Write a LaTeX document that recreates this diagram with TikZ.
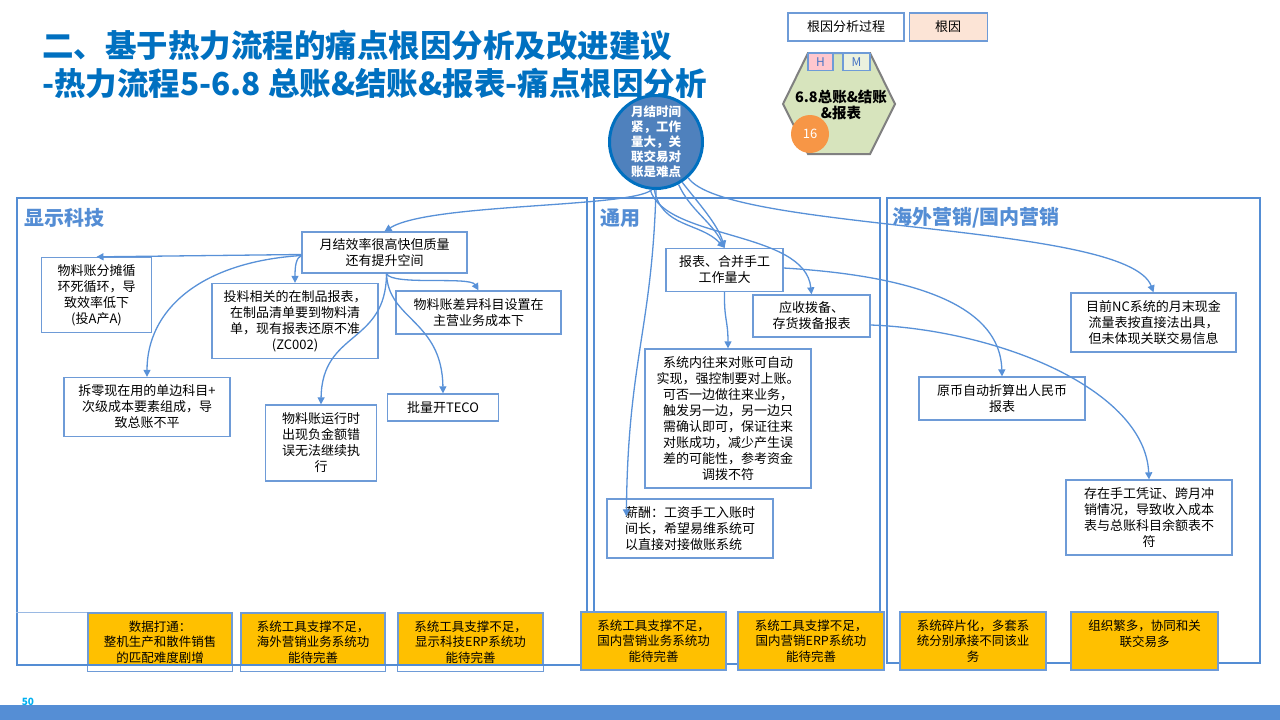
\documentclass[tikz,border=0pt]{standalone}
\usepackage{fontspec}
\setmainfont{Noto Sans CJK SC}
\usetikzlibrary{arrows.meta, calc, positioning}

\definecolor{titleblue}{RGB}{0,112,192}
\definecolor{panelblue}{RGB}{84,141,212}
\definecolor{boxblue}{RGB}{110,155,215}
\definecolor{linkblue}{RGB}{88,145,216}
\definecolor{rootfill}{RGB}{79,129,189}
\definecolor{rootedge}{RGB}{0,112,192}
\definecolor{hexfill}{RGB}{215,228,189}
\definecolor{hexedge}{RGB}{128,128,128}
\definecolor{peach}{RGB}{252,228,214}
\definecolor{hpink}{RGB}{255,199,206}
\definecolor{mpale}{RGB}{235,241,222}
\definecolor{tagtext}{RGB}{68,114,196}
\definecolor{badge}{RGB}{247,150,70}
\definecolor{causefill}{RGB}{255,192,0}
\definecolor{pagecyan}{RGB}{0,176,240}
\definecolor{barblue}{RGB}{85,142,213}

\begin{document}
\begin{tikzpicture}[
        x=1pt, y=-1pt,
        headline/.style={anchor=west, inner sep=0pt, text=titleblue, font=\fontsize{31.5}{36}\selectfont\bfseries},
        panel/.style={rectangle, draw=panelblue, line width=2.6pt, inner sep=0pt},
        paneltitle/.style={anchor=west, inner sep=0pt, text=panelblue, font=\fontsize{20}{24}\selectfont\bfseries},
        issue/.style={rectangle, draw=boxblue, line width=1.3pt, fill=white, align=center, inner sep=1pt, font=\fontsize{13}{16}\selectfont},
        cause/.style={rectangle, draw=boxblue, line width=1.2pt, fill=causefill, align=center, inner sep=1pt, minimum height=58pt, font=\fontsize{12.5}{15.5}\selectfont},
        legend/.style={rectangle, draw=boxblue, line width=1.2pt, minimum height=28pt, font=\fontsize{13}{16}\selectfont},
        tag/.style={rectangle, draw=boxblue, line width=1.2pt, minimum height=17pt, inner sep=0pt, text=tagtext, font=\fontsize{12}{14}\selectfont},
        arrow/.style={-{Triangle[length=7pt, width=7pt]}, line width=1.3pt, color=linkblue}
    ]
        \fill[white] (0,0) rectangle (1280,720);
        \useasboundingbox (0,0) rectangle (1280,720);

        \node[headline] (title) at (42,46) {二、基于热力流程的痛点根因分析及改进建议};
        \node[headline] (subtitle) at (42,83) {-热力流程5-6.8 总账\&结账\&报表-痛点根因分析};

        \node[legend, minimum width=116pt, fill=white] (legproc) at (846,27) {根因分析过程};
        \node[legend, minimum width=78pt, fill=peach, right=4pt of legproc] (legroot) {根因};

        \draw[fill=hexfill, draw=hexedge, line width=2pt] (808,53) -- (870,53) -- (895,104) -- (870,154) -- (808,154) -- (783,104) -- cycle;
        \draw[boxblue, line width=1.5pt] (808,53) -- (870,53);
        \node[tag, minimum width=25pt, fill=hpink] (tagh) at (820.5,62) {H};
        \node[tag, minimum width=27pt, fill=mpale] (tagm) at (856.5,62) {M};
        \node[align=center, inner sep=0pt, font=\fontsize{14.5}{16}\selectfont\bfseries] (hextext) at (841,105) {6.8总账\&结账\\\&报表};
        \node[circle, fill=badge, minimum size=38pt, inner sep=0pt, text=white, font=\fontsize{13}{15}\selectfont] (badge) at (810,134) {16};

        \node[circle, fill=rootfill, draw=rootedge, line width=3pt, minimum size=93pt, inner sep=0pt, align=center, text=white, font=\fontsize{12.5}{15}\selectfont\bfseries] (root) at (656,142) {月结时间\\紧，工作\\量大，关\\联交易对\\账是难点};

        \node[cause, minimum width=144pt] (c1) at (160,642) {数据打通：\\整机生产和散件销售\\的匹配难度剧增};
        \node[cause, minimum width=144pt] (c2) at (313,642) {系统工具支撑不足，\\海外营销业务系统功\\能待完善};
        \node[cause, minimum width=145pt] (c3) at (470.5,642) {系统工具支撑不足，\\显示科技ERP系统功\\能待完善};
        \foreach \c in {c1,c2,c3}
            \fill[white] ($(\c.south west)+(0.8,-0.8)$) rectangle ($(\c.south east)+(-0.8,-6)$);

        \node[panel, minimum width=570pt, minimum height=467pt] (xianshi) at (302,431.5) {};
        \node[panel, minimum width=286pt, minimum height=466pt] (tongyong) at (737,431) {};
        \node[panel, minimum width=373pt, minimum height=465pt] (haiwai) at (1073.5,430.5) {};
        \node[paneltitle] (xianshiT) at (24,218) {显示科技};
        \node[paneltitle] (tongyongT) at (600,218) {通用};
        \node[paneltitle] (haiwaiT) at (892,218) {海外营销/国内营销};
        \draw[boxblue!70, line width=1pt] (xianshi.west |- c1.north) -- (c1.north west);

        \node[cause, minimum width=145pt] (c4) at (653.5,641) {系统工具支撑不足，\\国内营销业务系统功\\能待完善};
        \node[cause, minimum width=146pt] (c5) at (811,641) {系统工具支撑不足，\\国内营销ERP系统功\\能待完善};
        \node[cause, minimum width=146pt] (c6) at (973,641) {系统碎片化，多套系\\统分别承接不同该业\\务};
        \node[cause, minimum width=147pt] (c7) at (1144.5,641) {组织繁多，协同和关\\联交易多\\ \mbox{}};

        \node[issue, minimum width=165pt, minimum height=41pt] (n1) at (384.5,252.5) {月结效率很高快但质量\\还有提升空间};
        \node[issue, minimum width=110pt, minimum height=75pt] (n2) at (96.5,295) {物料账分摊循\\环死循环，导\\致效率低下\\(投A产A)};
        \node[issue, minimum width=166pt, minimum height=75pt] (n3) at (295,321) {投料相关的在制品报表，\\在制品清单要到物料清\\单，现有报表还原不准\\(ZC002)};
        \node[issue, minimum width=165pt, minimum height=43pt] (n4) at (478.5,312.5) {物料账差异科目设置在\\主营业务成本下};
        \node[issue, minimum width=166pt, minimum height=59pt] (n5) at (147,407) {拆零现在用的单边科目+\\次级成本要素组成，导\\致总账不平};
        \node[issue, minimum width=111pt, minimum height=76pt] (n6) at (321,443) {物料账运行时\\出现负金额错\\误无法继续执\\行};
        \node[issue, minimum width=111pt, minimum height=27pt] (n7) at (443,407.5) {批量开TECO};

        \node[issue, minimum width=117pt, minimum height=43pt] (g1) at (724.5,270) {报表、合并手工\\工作量大};
        \node[issue, minimum width=117pt, minimum height=42pt] (g2) at (811.5,316) {应收拨备、\\存货拨备报表};
        \node[issue, minimum width=166pt, minimum height=139pt] (g3) at (728,418.5) {系统内往来对账可自动\\实现，强控制要对上账。\\可否一边做往来业务，\\触发另一边，另一边只\\需确认即可，保证往来\\对账成功，减少产生误\\差的可能性，参考资金\\调拨不符};
        \node[issue, align=left, minimum width=166pt, minimum height=59pt] (g4) at (690,528.5) {薪酬：工资手工入账时\\间长，希望易维系统可\\以直接对接做账系统};

        \node[issue, minimum width=165pt, minimum height=59pt] (h1) at (1153.5,322.5) {目前NC系统的月末现金\\流量表按直接法出具，\\但未体现关联交易信息};
        \node[issue, minimum width=166pt, minimum height=43pt] (h2) at (1002,398.5) {原币自动折算出人民币\\报表};
        \node[issue, minimum width=166pt, minimum height=75pt] (h3) at (1149,517.5) {存在手工凭证、跨月冲\\销情况，导致收入成本\\表与总账科目余额表不\\符};

        \draw[arrow] (root.265) .. controls (630,208) and (430,203) .. (n1.north);
        \draw[arrow] (root.268) .. controls (662,228) and (700,222) .. (g1.north);
        \draw[arrow] (root.-62) .. controls (690,210) and (712,222) .. (g1.north);
        \draw[arrow] (root.-57) .. controls (700,205) and (718,225) .. (g1.north);
        \draw[arrow] (root.263) .. controls (665,240) and (805,230) .. (g2.north);
        \draw[arrow] (root.-48) .. controls (725,232) and (1128,222) .. (h1.north);
        \draw[arrow] (root.270) .. controls (652,330) and (628,360) .. ($(g4.north west)+(20,18)$);

        \draw[arrow] ([yshift=-2pt]n1.west) -- (n2.north);
        \draw[arrow] ([yshift=-3pt]n1.west) .. controls (296,258) and (295,266) .. (n3.north);
        \draw[arrow] ([yshift=-3pt]n1.west) .. controls (200,262) and (147,310) .. (n5.north);
        \draw[arrow] ([xshift=2pt]n1.south) .. controls (392,286) and (470,276) .. (n4.north);
        \draw[arrow] ([xshift=2pt]n1.south) .. controls (386,345) and (322,330) .. (n6.north);
        \draw[arrow] ([xshift=2pt]n1.south) .. controls (388,320) and (442,320) .. (n7.north);

        \draw[arrow] (g1.south) .. controls (724,320) and (728,320) .. (g3.north);
        \draw[arrow] ([yshift=2pt]g1.east) .. controls (900,275) and (1000,300) .. (h2.north);
        \draw[arrow] ([yshift=-9pt]g2.east) .. controls (1000,330) and (1145,390) .. (h3.north);

        \node[inner sep=0pt, text=pagecyan, font=\fontsize{10}{12}\selectfont\bfseries] (pagenum) at (28,702) {50};
        \fill[barblue] (0,705) rectangle (1280,720);
    \end{tikzpicture}
\end{document}
